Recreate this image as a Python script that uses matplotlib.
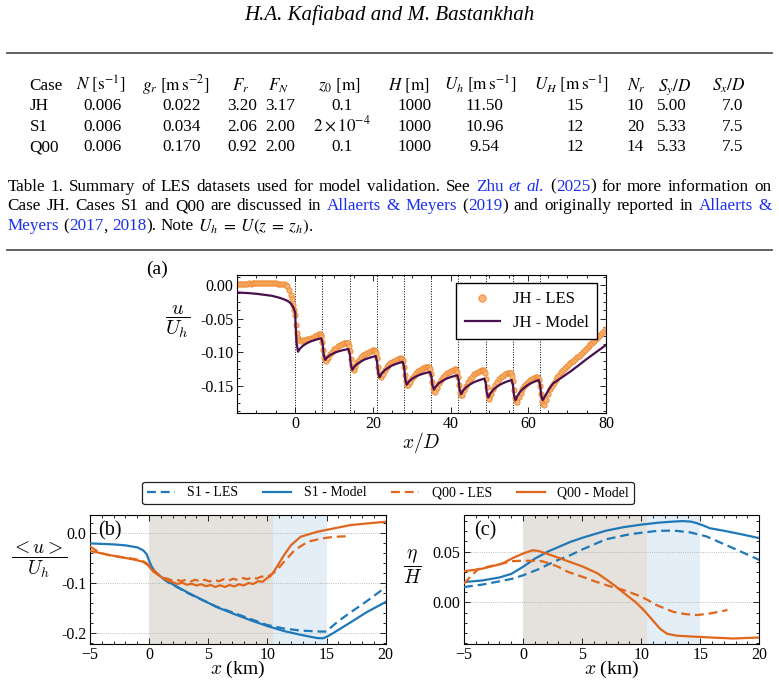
import matplotlib
matplotlib.use("Agg")
import matplotlib.pyplot as plt
from matplotlib.lines import Line2D
from matplotlib.ticker import MultipleLocator, FormatStrFormatter

plt.rcParams['font.family'] = ['Liberation Serif', 'DejaVu Serif']
plt.rcParams['mathtext.fontset'] = 'cm'
plt.rcParams['axes.linewidth'] = 0.8

W, H = 779, 690
BLUE_LINK = '#1a2ef0'
C_S1 = '#1f78b8'
C_Q00 = '#e0661c'
C_JH_LES_FACE = '#f8b574'
C_JH_LES_EDGE = '#ef862c'
C_JH_MODEL = '#4a0f4f'

# ---------------- table ----------------
table_header = ["Case", r"$N\ [\mathrm{s}^{-1}]$", r"$g_r\ [\mathrm{m\,s}^{-2}]$", r"$F_r$", r"$F_N$",
                r"$z_0\ [\mathrm{m}]$", r"$H\ [\mathrm{m}]$", r"$U_h\ [\mathrm{m\,s}^{-1}]$",
                r"$U_H\ [\mathrm{m\,s}^{-1}]$", r"$N_r$", r"$S_y/D$", r"$S_x/D$"]
table_rows = [
    ["JH", "0.006", "0.022", "3.20", "3.17", "0.1", "1000", "11.50", "15", "10", "5.00", "7.0"],
    ["S1", "0.006", "0.034", "2.06", "2.00", r"$2\times10^{-4}$", "1000", "10.96", "12", "20", "5.33", "7.5"],
    ["Q00", "0.006", "0.170", "0.92", "2.00", "0.1", "1000", "9.54", "12", "14", "5.33", "7.5"],
]

# ---------------- (a) Case JH ----------------
jh_turbines = [0, 7, 14, 21, 28, 35, 42, 49, 56, 63]

les_up_x = [-15.0, -14.5, -14.0, -13.5, -13.0, -12.5, -12.0, -11.5, -11.0, -10.5, -10.0, -9.5, -9.0,
            -8.5, -8.0, -7.5, -7.0, -6.5, -6.0, -5.5, -5.0, -4.5, -4.0, -3.5, -3.0, -2.5, -2.0,
            -1.5, -1.0, -0.75, -0.5, -0.25]
les_up_y = [0.001, 0.0015, 0.001, 0.002, 0.0015, 0.002, 0.0025, 0.002, 0.003, 0.0025, 0.003, 0.0035,
            0.003, 0.0035, 0.003, 0.0035, 0.003, 0.003, 0.0025, 0.003, 0.0025, 0.002, 0.002, 0.0015,
            0.001, 0.0, -0.002, -0.007, -0.015, -0.021, -0.029, -0.037]
les_offsets = [0, 0.25, 0.5, 0.75, 1.0, 1.5, 2.0, 2.5, 3.0, 3.5, 4.0, 4.5, 5.0, 5.5, 6.0, 6.25, 6.5, 6.75]
les_seg = [
    [-0.045, -0.060, -0.071, -0.078, -0.082, -0.083, -0.082, -0.081, -0.080, -0.0795, -0.079, -0.078, -0.076, -0.074, -0.073, -0.073, -0.0745, -0.077],
    [-0.085, -0.097, -0.107, -0.1118, -0.113, -0.1076, -0.1027, -0.099, -0.0957, -0.093, -0.0909, -0.0892, -0.0879, -0.0868, -0.086, -0.086, -0.0868, -0.090],
    [-0.098, -0.110, -0.120, -0.1248, -0.126, -0.1202, -0.115, -0.1109, -0.1074, -0.1045, -0.1022, -0.1005, -0.099, -0.0979, -0.097, -0.097, -0.0979, -0.101],
    [-0.109, -0.121, -0.131, -0.1358, -0.137, -0.1314, -0.1264, -0.1224, -0.1191, -0.1163, -0.114, -0.1124, -0.111, -0.1099, -0.109, -0.109, -0.1098, -0.113],
    [-0.121, -0.133, -0.143, -0.1478, -0.149, -0.1434, -0.1384, -0.1344, -0.1311, -0.1283, -0.126, -0.1244, -0.123, -0.1219, -0.121, -0.121, -0.1218, -0.1248],
    [-0.1324, -0.1438, -0.1533, -0.1579, -0.159, -0.1522, -0.1461, -0.1413, -0.1372, -0.1338, -0.1311, -0.1291, -0.1274, -0.126, -0.125, -0.125, -0.126, -0.1289],
    [-0.1367, -0.1484, -0.1582, -0.1628, -0.164, -0.1564, -0.1496, -0.1442, -0.1397, -0.1359, -0.1328, -0.1306, -0.1287, -0.1271, -0.126, -0.126, -0.1271, -0.1303],
    [-0.1389, -0.1518, -0.1626, -0.1677, -0.169, -0.1612, -0.1542, -0.1487, -0.144, -0.1401, -0.137, -0.1347, -0.1327, -0.1312, -0.130, -0.130, -0.1312, -0.1344],
    [-0.1432, -0.1564, -0.1674, -0.1727, -0.174, -0.1666, -0.1599, -0.1548, -0.1503, -0.1466, -0.1437, -0.1414, -0.1396, -0.1381, -0.137, -0.137, -0.1381, -0.1411],
]
les_tail_x = [63.0, 63.25, 63.5, 63.75, 64.0, 64.5, 65.0, 65.5, 66.0, 66.5, 67.0, 67.5, 68.0, 68.5, 69.0,
              69.5, 70.0, 70.5, 71.0, 71.5, 72.0, 72.5, 73.0, 73.5, 74.0, 74.5, 75.0, 75.5, 76.0, 76.5,
              77.0, 77.5, 78.0, 78.5, 79.0, 79.5, 80.0]
les_tail_y = [-0.1493, -0.1616, -0.1719, -0.1768, -0.178, -0.170, -0.162, -0.155, -0.150, -0.145, -0.141,
              -0.137, -0.133, -0.1295, -0.126, -0.123, -0.120, -0.1175, -0.115, -0.1125, -0.110, -0.1075,
              -0.105, -0.102, -0.099, -0.0965, -0.094, -0.091, -0.088, -0.0855, -0.083, -0.080, -0.077,
              -0.074, -0.071, -0.068, -0.065]

model_up_x = [-15.0, -12.0, -10.0, -8.0, -6.0, -4.0, -3.0, -2.0, -1.2, -0.6, -0.25, 0.0]
model_up_y = [-0.011, -0.012, -0.013, -0.0145, -0.016, -0.019, -0.021, -0.0235, -0.027, -0.032, -0.037, -0.041]
model_offsets = [0.05, 0.3, 0.7, 1.2, 2.0, 3.0, 4.0, 5.0, 6.0, 6.7]
model_seg = [
    [-0.055, -0.084, -0.099, -0.0946, -0.090, -0.0864, -0.0836, -0.0816, -0.080, -0.079],
    [-0.087, -0.103, -0.111, -0.1075, -0.1038, -0.1009, -0.0987, -0.0971, -0.0958, -0.095],
    [-0.1028, -0.1183, -0.126, -0.1215, -0.1168, -0.1131, -0.1102, -0.1082, -0.1065, -0.1055],
    [-0.1134, -0.1291, -0.137, -0.1319, -0.1266, -0.1225, -0.1193, -0.117, -0.1151, -0.114],
    [-0.1225, -0.1395, -0.148, -0.1438, -0.1394, -0.136, -0.1334, -0.1315, -0.130, -0.129],
    [-0.1355, -0.1485, -0.155, -0.1504, -0.1456, -0.1418, -0.1388, -0.1367, -0.135, -0.134],
    [-0.141, -0.155, -0.162, -0.1569, -0.1516, -0.1475, -0.1443, -0.142, -0.1401, -0.139],
    [-0.146, -0.160, -0.167, -0.1613, -0.1553, -0.1506, -0.147, -0.1444, -0.1423, -0.141],
    [-0.1485, -0.1635, -0.171, -0.1644, -0.1575, -0.1521, -0.1479, -0.1449, -0.1425, -0.141],
]
model_tail_x = [63.05, 63.3, 63.7, 64.5, 65.5, 66.4, 68.0, 70.7, 73.0, 75.0, 77.5, 80.0]
model_tail_y = [-0.1485, -0.1635, -0.171, -0.163, -0.153, -0.146, -0.1397, -0.129, -0.119, -0.110, -0.0995, -0.089]

# ---------------- (b) <u>/U_h ----------------
s1_model_b_x = [-5, -3, -2, -1, -0.5, -0.2, 0.0, 0.2, 0.5, 1.0, 1.6, 2.3, 3.2, 4.3, 5.7, 7.1, 8.6, 10.0,
                11.4, 12.8, 14.2, 14.7, 15.1, 15.6, 17.0, 18.4, 20]
s1_model_b_y = [-0.020, -0.022, -0.024, -0.028, -0.034, -0.042, -0.055, -0.066, -0.077, -0.087, -0.097,
                -0.106, -0.118, -0.131, -0.1477, -0.161, -0.1745, -0.186, -0.196, -0.2035, -0.210, -0.2105,
                -0.2066, -0.1995, -0.179, -0.158, -0.1376]
s1_les_b_x = [0.3, 1.0, 1.6, 2.3, 3.2, 4.3, 5.7, 7.1, 8.6, 10.0, 11.4, 12.8, 14.5, 15.0, 15.5, 16.0, 17.0, 18.4, 20.0]
s1_les_b_y = [-0.072, -0.088, -0.098, -0.107, -0.119, -0.1315, -0.147, -0.159, -0.172, -0.184, -0.191,
              -0.195, -0.197, -0.197, -0.186, -0.176, -0.159, -0.136, -0.108]
q00_model_b_x = [-5, -3.3, -1.3, -0.5, -0.1, 0.37, 0.93, 1.5, 2.0, 2.4, 2.8, 3.2, 3.6, 4.0, 4.4, 4.8, 5.2,
                 5.6, 6.0, 6.4, 6.8, 7.2, 7.6, 8.0, 8.4, 8.8, 9.2, 9.6, 10.0, 10.25, 10.5, 10.8, 11.4, 12.0,
                 12.8, 14.2, 15.6, 17.0, 18.4, 20]
q00_model_b_y = [-0.035, -0.0437, -0.0523, -0.057, -0.064, -0.077, -0.086, -0.094, -0.098, -0.1015, -0.099,
                 -0.103, -0.101, -0.1045, -0.102, -0.106, -0.1035, -0.1075, -0.104, -0.1075, -0.1035, -0.1065,
                 -0.102, -0.1045, -0.0995, -0.1015, -0.096, -0.097, -0.089, -0.086, -0.078, -0.067, -0.0437,
                 -0.0235, -0.0068, 0.0033, 0.010, 0.0167, 0.020, 0.0234]
q00_les_b_x = [-5, -4.5, -4, -3.3, -2.5, -1.3, -0.5, -0.2, 0.3, 0.8, 1.2, 1.5, 1.9, 2.3, 2.7, 3.1, 3.5, 3.9,
               4.3, 4.7, 5.1, 5.5, 5.9, 6.3, 6.7, 7.1, 7.5, 7.9, 8.3, 8.7, 9.1, 9.5, 9.9, 10.3, 10.8, 11.4,
               12.3, 13.4, 14.6, 15.6, 17.0]
q00_les_b_y = [-0.026, -0.034, -0.040, -0.044, -0.047, -0.051, -0.056, -0.060, -0.072, -0.083, -0.089,
               -0.0906, -0.094, -0.0925, -0.096, -0.093, -0.0965, -0.093, -0.0965, -0.093, -0.0965, -0.093,
               -0.096, -0.092, -0.095, -0.091, -0.0935, -0.0895, -0.092, -0.088, -0.0905, -0.0865, -0.088,
               -0.083, -0.074, -0.057, -0.0336, -0.0168, -0.0101, -0.0068, -0.0054]

# ---------------- (c) eta/H ----------------
s1_model_c_x = [-5, -3.5, -2, -1, 0, 1, 2.1, 3, 4, 5, 6, 7, 8.5, 10, 11.5, 12.7, 13.5, 14.2, 14.7, 15.3,
                15.8, 17, 18.5, 20]
s1_model_c_y = [0.020, 0.0215, 0.0245, 0.028, 0.035, 0.043, 0.050, 0.0545, 0.0595, 0.0635, 0.067, 0.0705,
                0.074, 0.0765, 0.0785, 0.0795, 0.080, 0.0795, 0.078, 0.0755, 0.073, 0.0705, 0.067, 0.0632]
s1_les_c_x = [-5, -3.5, -2, -1, 0, 1.3, 2.7, 4, 5, 7, 9, 10, 11.3, 12.7, 14.1, 15.5, 17.8, 20]
s1_les_c_y = [0.0151, 0.0174, 0.0207, 0.023, 0.0266, 0.0326, 0.0405, 0.0464, 0.052, 0.062, 0.067, 0.0685,
              0.0703, 0.0707, 0.069, 0.065, 0.0533, 0.0418]
q00_model_c_x = [-5, -3.5, -1.8, -0.67, 0, 0.8, 1.3, 2.4, 3.8, 5, 6.3, 7.7, 8.5, 9.5, 10.25, 11.0, 11.6,
                 12.2, 13, 14.2, 15.9, 17.8, 20]
q00_model_c_y = [0.0306, 0.033, 0.038, 0.0447, 0.048, 0.0513, 0.0506, 0.0464, 0.0405, 0.0355, 0.0286,
                 0.0171, 0.0095, 0.0005, -0.008, -0.018, -0.026, -0.031, -0.0328, -0.0336, -0.0346, -0.0356,
                 -0.0346]
q00_les_c_x = [-5, -4.4, -3.8, -3, -2, -1, 0, 1, 1.6, 2.3, 3, 3.8, 5, 6, 7, 8.5, 9.9, 10.6, 11.3, 12.7,
               13.7, 14.7, 15.8, 17.0, 17.3]
q00_les_c_y = [0.0184, 0.026, 0.0326, 0.035, 0.0375, 0.0405, 0.041, 0.0408, 0.0405, 0.038, 0.0349, 0.030,
               0.0253, 0.021, 0.0171, 0.0121, 0.0062, 0.002, -0.0027, -0.0093, -0.0115, -0.0125, -0.011,
               -0.0083, -0.0075]

fig = plt.figure(figsize=(W / 100, H / 100), dpi=100)
renderer = fig.canvas.get_renderer()


def fx(px):
    return px / W


def fy(py):
    return 1 - py / H


def hrule(py):
    fig.add_artist(Line2D([fx(7), fx(772)], [fy(py), fy(py)], transform=fig.transFigure,
                          color='#555555', lw=1.3))


# running head
fig.text(fx(389), fy(20), "H.A. Kafiabad and M. Bastankhah", fontsize=15, fontstyle='italic',
         ha='center', va='baseline')
hrule(52.5)

# table
head_x = [29.5, 101, 176, 241, 279, 339, 409, 480, 572, 636, 675, 729]
val_x = [29.5, 102, 181.5, 242, 280, 342, 415, 484.5, 575.5, 635.5, 672, 733]
row_y = [110.5, 131, 151]
TFS = 12.3
for i, h in enumerate(table_header):
    fig.text(fx(head_x[i]), fy(90.5), h, fontsize=TFS, ha='left' if i == 0 else 'center',
             va='baseline', math_fontfamily='stix')
for r, row in enumerate(table_rows):
    for i, v in enumerate(row):
        fig.text(fx(val_x[i]), fy(row_y[r]), v, fontsize=TFS, ha='left' if i == 0 else 'center',
                 va='baseline', math_fontfamily='stix')

# caption with links, justified like the page
K = 'black'
B = BLUE_LINK


def words(s):
    return [[(w, K, False)] for w in s.split()]


cap_lines = [
    (words("Table 1. Summary of LES datasets used for model validation. See")
     + [[("Zhu", B, False)], [("et", B, True)], [("al.", B, True)],
        [("(", K, False), ("2025", B, False), (")", K, False)]]
     + words("for more information on"), True),
    (words("Case JH. Cases S1 and Q00 are discussed in")
     + [[("Allaerts", B, False)], [("&", B, False)], [("Meyers", B, False)],
        [("(", K, False), ("2019", B, False), (")", K, False)]]
     + words("and originally reported in") + [[("Allaerts", B, False)], [("&", B, False)]], True),
    ([[("Meyers", B, False)], [("(", K, False), ("2017", B, False), (",", K, False)],
      [("2018", B, False), (").", K, False)], [("Note", K, False)],
      [(r"$U_h\;=\;U(z\;=\;z_h)$.", K, False)]], False),
]
cap_base = [190.5, 210.5, 230.5]
CFS = 12.3
X0, X1 = 7.5, 771.5
for (line, justify), yb in zip(cap_lines, cap_base):
    items = []
    for word in line:
        parts = []
        for s, col, it in word:
            t = fig.text(0, fy(yb), s, fontsize=CFS, color=col,
                         fontstyle='italic' if it else 'normal', ha='left', va='baseline',
                         math_fontfamily='stix')
            parts.append((t, t.get_window_extent(renderer).width))
        items.append(parts)
    widths = [sum(w for _, w in p) for p in items]
    if justify:
        gap = (X1 - X0 - sum(widths)) / (len(items) - 1)
    else:
        gap = 0.25 * CFS * 100 / 72
    x = X0
    for parts in items:
        for t, w in parts:
            t.set_x(fx(x))
            x += w
        x += gap

hrule(249.5)


def style_ticks(ax, fs):
    ax.tick_params(which='both', direction='in', top=True, right=True, labelsize=fs, width=0.6,
                   pad=2.5)
    ax.tick_params(which='major', length=4)
    ax.tick_params(which='minor', length=2)


# ---------------- panel (a) ----------------
ax_a = fig.add_axes([fx(237), fy(413), 369 / W, 138 / H])
for t in jh_turbines:
    ax_a.axvline(t, color='k', lw=0.7, ls=(0, (1.0, 1.6)), zorder=1)
les_x = les_up_x + [t + o for t in jh_turbines[:9] for o in les_offsets] + les_tail_x
les_y = les_up_y + [v for row in les_seg for v in row] + les_tail_y
model_x = model_up_x + [t + o for t in jh_turbines[:9] for o in model_offsets] + model_tail_x
model_y = model_up_y + [v for row in model_seg for v in row] + model_tail_y
ax_a.plot(les_x, les_y, 'o', ms=3.8, mfc=C_JH_LES_FACE, mec=C_JH_LES_EDGE, mew=0.6,
          label='JH - LES', zorder=2)
ax_a.plot(model_x, model_y, color=C_JH_MODEL, lw=1.6, label='JH - Model', zorder=3)
ax_a.set_xlim(-15, 80)
ax_a.set_ylim(-0.190, 0.0149)
ax_a.xaxis.set_major_locator(MultipleLocator(20))
ax_a.xaxis.set_minor_locator(MultipleLocator(5))
ax_a.yaxis.set_major_locator(MultipleLocator(0.05))
ax_a.yaxis.set_minor_locator(MultipleLocator(0.0125))
ax_a.yaxis.set_major_formatter(FormatStrFormatter('%.2f'))
style_ticks(ax_a, 11.5)
ax_a.set_xlabel(r'$x/D$', fontsize=14, labelpad=-2)
ax_a.text(-0.16, 0.66, r'$\dfrac{u}{U_h}$', transform=ax_a.transAxes, fontsize=14.5,
          ha='center', va='center')
leg = ax_a.legend(loc='upper right', bbox_to_anchor=(0.976, 0.942), borderaxespad=0, fontsize=12,
                  fancybox=False, edgecolor='k', framealpha=1, handlelength=2.1, numpoints=1,
                  markerscale=1.4, borderpad=0.5, labelspacing=0.45, handletextpad=0.8)
leg.get_frame().set_linewidth(1.0)
fig.text(fx(157), fy(269), '(a)', fontsize=14, ha='center', va='center')

# ---------------- panels (b), (c) ----------------
DASH = (0, (4, 2.2))
ax_b = fig.add_axes([fx(90), fy(644), 295.7 / W, 129 / H])
ax_c = fig.add_axes([fx(464), fy(644), 295.3 / W, 129 / H])
for ax in (ax_b, ax_c):
    ax.axvspan(0, 10.5, color='#e5e2dd', lw=0, zorder=0)
    ax.axvspan(10.5, 15, color='#e3eef7', lw=0, zorder=0)
    ax.set_xlim(-5, 20)
    ax.xaxis.set_major_locator(MultipleLocator(5))
    ax.xaxis.set_minor_locator(MultipleLocator(1))
    ax.grid(axis='y', which='major', ls=':', color='#a8a8a8', lw=0.6)
    ax.set_axisbelow(True)
    style_ticks(ax, 11.5)
    ax.set_xlabel(r'$x$ (km)', fontsize=14, labelpad=-3)

ax_b.plot(s1_les_b_x, s1_les_b_y, color=C_S1, ls=DASH, lw=1.6, zorder=3)
ax_b.plot(s1_model_b_x, s1_model_b_y, color=C_S1, lw=1.6, zorder=3)
ax_b.plot(q00_les_b_x, q00_les_b_y, color=C_Q00, ls=DASH, lw=1.6, zorder=3)
ax_b.plot(q00_model_b_x, q00_model_b_y, color=C_Q00, lw=1.6, zorder=3)
ax_b.set_ylim(-0.222, 0.037)
ax_b.yaxis.set_major_locator(MultipleLocator(0.1))
ax_b.yaxis.set_minor_locator(MultipleLocator(0.02))
ax_b.yaxis.set_major_formatter(FormatStrFormatter('%.1f'))
ax_b.text(-0.172, 0.651, r'$\dfrac{<u>}{U_h}$', transform=ax_b.transAxes, fontsize=14,
          ha='center', va='center')
ax_b.text(0.068, 0.875, '(b)', transform=ax_b.transAxes, fontsize=14.5, ha='center', va='center')

ax_c.plot(s1_les_c_x, s1_les_c_y, color=C_S1, ls=DASH, lw=1.6, zorder=3)
ax_c.plot(s1_model_c_x, s1_model_c_y, color=C_S1, lw=1.6, zorder=3)
ax_c.plot(q00_les_c_x, q00_les_c_y, color=C_Q00, ls=DASH, lw=1.6, zorder=3)
ax_c.plot(q00_model_c_x, q00_model_c_y, color=C_Q00, lw=1.6, zorder=3)
ax_c.set_ylim(-0.041, 0.086)
ax_c.yaxis.set_major_locator(MultipleLocator(0.05))
ax_c.yaxis.set_minor_locator(MultipleLocator(0.01))
ax_c.yaxis.set_major_formatter(FormatStrFormatter('%.2f'))
ax_c.text(-0.173, 0.597, r'$\dfrac{\eta}{H}$', transform=ax_c.transAxes, fontsize=14,
          ha='center', va='center')
ax_c.text(0.071, 0.875, '(c)', transform=ax_c.transAxes, fontsize=14.5, ha='center', va='center')

handles = [Line2D([], [], color=C_S1, ls=DASH, lw=1.6, label='S1 - LES'),
           Line2D([], [], color=C_S1, lw=1.6, label='S1 - Model'),
           Line2D([], [], color=C_Q00, ls=DASH, lw=1.6, label='Q00 - LES'),
           Line2D([], [], color=C_Q00, lw=1.6, label='Q00 - Model')]
fleg = fig.legend(handles=handles, loc='center', bbox_to_anchor=(fx(388), fy(493)), ncol=4,
                  fontsize=10, fancybox=True, edgecolor='#222222', framealpha=1, handlelength=2.0,
                  handletextpad=0.9, columnspacing=1.8, borderpad=0.35)
fleg.get_frame().set_linewidth(0.9)

fig.savefig('out.png', dpi=100)
